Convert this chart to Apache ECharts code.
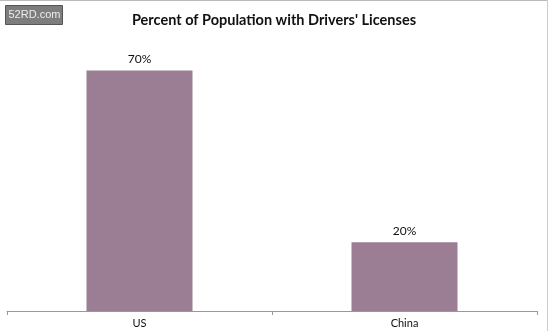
<!DOCTYPE html>
<html>
<head>
<meta charset="utf-8">
<script src="https://cdn.jsdelivr.net/npm/echarts@6/dist/echarts.min.js"></script>
<style>
html,body{margin:0;padding:0;background:#fff;}
#c{width:548px;height:331px;}
</style>
</head>
<body>
<div id="c"></div>
<script>
var categories = ['US', 'China'];
var values = [70, 20];
var titleText = 'Percent of Population with Drivers\' Licenses';

var chart = echarts.init(document.getElementById('c'), null, {renderer: 'canvas'});
chart.setOption({
  backgroundColor: '#ffffff',
  animation: false,
  title: {
    text: titleText,
    left: 'center',
    top: 8,
    textStyle: {fontFamily: 'Lato', fontWeight: 'bold', fontSize: 14.5, color: '#111'}
  },
  graphic: [
    {type: 'rect', left: 0, top: 0, shape: {width: 548, height: 1}, style: {fill: '#bbb'}},
    {type: 'rect', right: 0, top: 0, shape: {width: 1, height: 331}, style: {fill: '#ccc'}},
    {type: 'group', left: 5, top: 5, children: [
      {type: 'rect', shape: {width: 57, height: 19}, style: {fill: '#7d7d7d', stroke: '#555', lineWidth: 1}},
      {type: 'text', left: 3, top: 4, style: {text: '52RD.com', fill: '#eee', font: '11px "Liberation Sans"'}}
    ]}
  ],
  grid: {left: 7, right: 11, top: 36, bottom: 20, containLabel: false},
  xAxis: {
    type: 'category',
    data: categories,
    axisLine: {lineStyle: {color: '#999', width: 1}},
    axisTick: {show: true, length: 4, lineStyle: {color: '#999'}},
    axisLabel: {fontFamily: 'Lato', fontSize: 11, color: '#111', margin: 7}
  },
  yAxis: {
    type: 'value',
    min: 0,
    max: 80,
    show: false,
    splitLine: {show: false}
  },
  series: [{
    type: 'bar',
    data: values,
    barWidth: '40%',
    itemStyle: {color: '#9b7d94'},
    label: {
      show: true,
      position: 'top',
      distance: 5,
      formatter: '{c}%',
      fontFamily: 'Lato',
      fontSize: 12,
      color: '#111'
    }
  }]
});
</script>
</body>
</html>
